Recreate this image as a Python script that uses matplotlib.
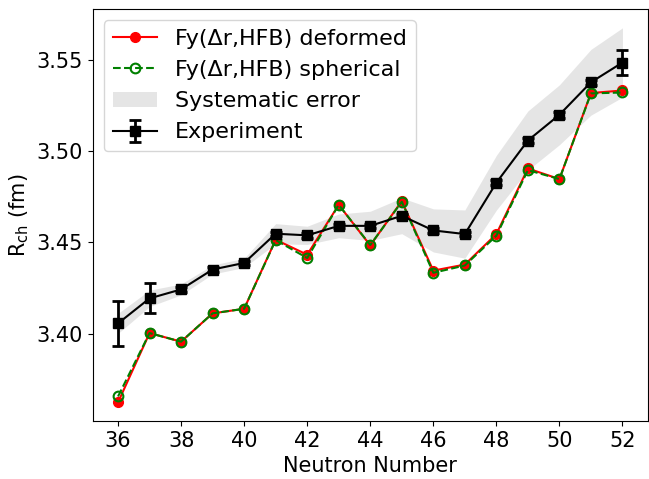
import numpy as np
import matplotlib
matplotlib.use('Agg')
import matplotlib.pyplot as plt

neutrons = np.arange(36, 53)

# experimental charge radii (fm) and statistical errors
r_exp = [3.4056, 3.4193, 3.4242, 3.4351, 3.4387, 3.4547, 3.4538, 3.4590, 3.4590,
         3.4645, 3.4565, 3.4545, 3.4826, 3.5057, 3.5198, 3.5376, 3.5484]
r_exp_err = [0.0121, 0.0082, 0.0012, 0.0012, 0.0012, 0.0012, 0.0012, 0.0012, 0.0012,
             0.0012, 0.0012, 0.0012, 0.0015, 0.0015, 0.0015, 0.0015, 0.0066]
# systematic error (half width of the band)
r_sys = [0.0055, 0.0045, 0.003, 0.0025, 0.0025, 0.0055, 0.005, 0.0065, 0.008,
         0.0098, 0.0118, 0.0132, 0.015, 0.0162, 0.0164, 0.018, 0.019]

r_deformed = [3.3624, 3.4003, 3.3956, 3.4111, 3.4136, 3.4514, 3.4432, 3.4705, 3.4483,
              3.4725, 3.4345, 3.4378, 3.4545, 3.4904, 3.4846, 3.5317, 3.5331]
r_spherical = [3.3656, 3.4003, 3.3956, 3.4111, 3.4136, 3.4512, 3.4414, 3.4705, 3.4485,
               3.4722, 3.4333, 3.4373, 3.4536, 3.4895, 3.4846, 3.5315, 3.5320]

plt.rcParams['font.size'] = 15

fig = plt.figure(figsize=(6.49, 4.79), dpi=100)
ax = fig.add_subplot(111)
fig.subplots_adjust(left=0.143, right=0.998, top=0.981, bottom=0.121)

lo = np.array(r_exp) - np.array(r_sys)
hi = np.array(r_exp) + np.array(r_sys)
band = ax.fill_between(neutrons, lo, hi, color='gray', alpha=0.2, linewidth=0,
                       label='Systematic error')

l_def, = ax.plot(neutrons, r_deformed, 'r-o', lw=1.5, ms=7, label='Fy(\u0394r,HFB) deformed')
l_sph, = ax.plot(neutrons, r_spherical, 'g--o', lw=1.5, ms=7, mfc='none', mew=1.5,
                 label='Fy(\u0394r,HFB) spherical')
exp = ax.errorbar(neutrons, r_exp, yerr=r_exp_err, fmt='ks-', lw=1.5, ms=7,
                  capsize=4, elinewidth=2, capthick=2, label='Experiment')

ax.set_xticks(np.arange(36, 53, 2))
ax.tick_params(labelsize=15)
ax.set_xlabel('Neutron Number', fontsize=15)
ax.set_ylabel(r'R$_{\mathrm{ch}}$ (fm)', fontsize=15)
ax.legend([l_def, l_sph, band, exp],
          ['Fy(\u0394r,HFB) deformed', 'Fy(\u0394r,HFB) spherical', 'Systematic error', 'Experiment'],
          loc='upper left', fontsize=16, handlelength=2.0)

plt.savefig('out.png', dpi=100)
